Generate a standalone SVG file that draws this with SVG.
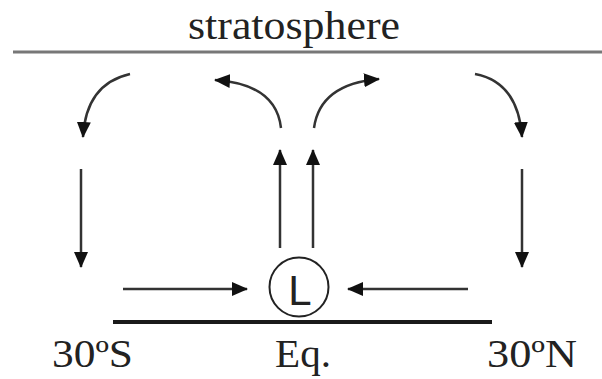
<svg xmlns="http://www.w3.org/2000/svg" width="602" height="379" viewBox="0 0 602 379">
  <style>
    .lbl { font-family: "Liberation Serif", "Times New Roman", serif; font-size: 40px; fill: #222; }
    .conn { fill: none; stroke: #333; stroke-width: 2.5; marker-end: url(#head); }
  </style>
  <defs>
    <marker id="head" markerUnits="userSpaceOnUse" markerWidth="16" markerHeight="14" viewBox="0 0 16 14" refX="15" refY="7" orient="auto">
      <path d="M0,0 L16,7 L0,14 z" fill="#111"/>
    </marker>
  </defs>
  <rect width="602" height="379" fill="#fff"/>

  <g id="stratosphere">
    <text class="lbl" x="188" y="39" textLength="212" lengthAdjust="spacingAndGlyphs">stratosphere</text>
    <line x1="13" y1="52" x2="602" y2="52" stroke="#777" stroke-width="3"/>
  </g>

  <g id="surface">
    <line x1="113" y1="322" x2="492" y2="322" stroke="#1a1a1a" stroke-width="4"/>
  </g>

  <g id="low">
    <circle cx="299" cy="287" r="29.5" fill="none" stroke="#222" stroke-width="2"/>
    <text x="300" y="305" text-anchor="middle" font-family="Liberation Sans, Arial, sans-serif" font-size="42" fill="#222">L</text>
  </g>

  <g id="lat-30S">
    <text class="lbl" x="52" y="367" textLength="81" lengthAdjust="spacingAndGlyphs">30ºS</text>
  </g>
  <g id="lat-eq">
    <text class="lbl" x="275" y="367" textLength="56" lengthAdjust="spacingAndGlyphs">Eq.</text>
  </g>
  <g id="lat-30N">
    <text class="lbl" x="487" y="367" textLength="90" lengthAdjust="spacingAndGlyphs">30ºN</text>
  </g>

  <g id="connectors">
    <path class="conn" d="M130,74 Q86,84 83,137"/>
    <path class="conn" d="M281,128 Q276,84 215,80"/>
    <path class="conn" d="M314,128 Q320,84 379,79"/>
    <path class="conn" d="M475,74 Q518,82 522,137"/>
    <path class="conn" d="M81,169 L81,267"/>
    <path class="conn" d="M522,169 L522,267"/>
    <path class="conn" d="M280,248 L280,150"/>
    <path class="conn" d="M313,248 L313,150"/>
    <path class="conn" d="M123,289 L247,289"/>
    <path class="conn" d="M468,289 L348,289"/>
  </g>
</svg>
